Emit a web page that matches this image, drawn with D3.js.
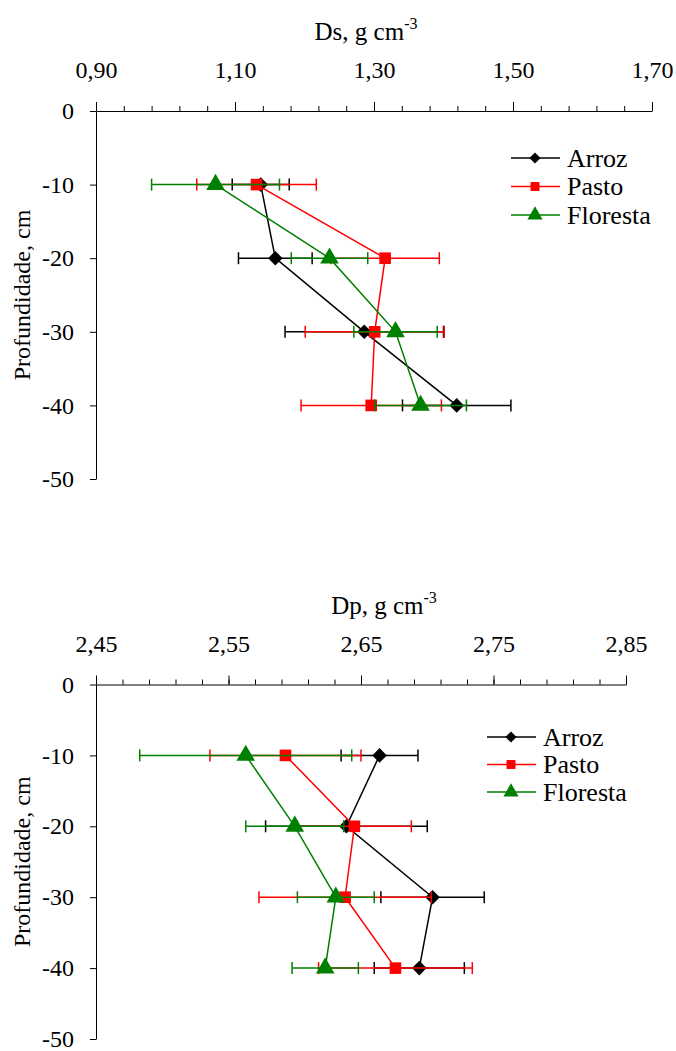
<!DOCTYPE html>
<html>
<head>
<meta charset="utf-8">
<script src="https://cdn.jsdelivr.net/npm/d3@7"></script>
<style>
 body { margin: 0; background: #fff; }
 svg text { font-family: "Liberation Serif", "Tinos", "Noto Serif", "DejaVu Serif", "FreeSerif", "Nimbus Roman", "Times New Roman", serif; fill: #000; }
 .axis path, .axis line { stroke: #000; }
 .axis text { font-size: 24px; }
</style>
</head>
<body>
<svg id="chart" width="676" height="1051"></svg>
<script>
 // depth of each sampled layer (cm)
 const depths = [-10, -20, -30, -40];
 const depthTicks = [0, -10, -20, -30, -40, -50];
 const seriesNames = ['Arroz', 'Pasto', 'Floresta'];

 // Ds, g cm-3 (mean and error)
 const dsArroz = [1.137, 1.158, 1.286, 1.419];
 const dsArrozErr = [0.041, 0.053, 0.114, 0.078];
 const dsPasto = [1.131, 1.316, 1.301, 1.296];
 const dsPastoErr = [0.086, 0.078, 0.100, 0.101];
 const dsFloresta = [1.072, 1.236, 1.331, 1.367];
 const dsFlorestaErr = [0.092, 0.055, 0.060, 0.066];
 const dsTicks = [0.90, 1.10, 1.30, 1.50, 1.70];

 // Dp, g cm-3 (mean and error)
 const dpArroz = [2.664, 2.639, 2.704, 2.694];
 const dpArrozErr = [0.029, 0.061, 0.039, 0.034];
 const dpPasto = [2.593, 2.645, 2.638, 2.676];
 const dpPastoErr = [0.057, 0.043, 0.065, 0.058];
 const dpFloresta = [2.563, 2.600, 2.631, 2.623];
 const dpFlorestaErr = [0.080, 0.037, 0.029, 0.025];
 const dpTicks = [2.45, 2.55, 2.65, 2.75, 2.85];

 const colors = ['#000000', '#ff0000', '#008000'];
 const symbols = [d3.symbolDiamond2, d3.symbolSquare, d3.symbolTriangle];
 const fmt = v => d3.format('.2f')(v).replace('.', ',');

 const svg = d3.select('#chart');

 function panel(opt) {
   const x = d3.scaleLinear().domain(opt.domain).range([opt.left, opt.right]);
   const y = d3.scaleLinear().domain([0, -50]).range([opt.top, opt.bottom]);
   const g = svg.append('g');

   // minor ticks on the top axis
   const minor = d3.range(opt.domain[0], opt.domain[1] + opt.minorStep / 2, opt.minorStep);
   g.append('g').attr('class', 'axis')
     .attr('transform', `translate(0,${opt.top})`)
     .call(d3.axisTop(x).tickValues(minor).tickSize(5).tickFormat(''))
     .call(s => s.select('.domain').remove());
   g.append('g').attr('class', 'axis')
     .attr('transform', `translate(0,${opt.top})`)
     .call(d3.axisTop(x).tickValues(opt.ticks).tickSize(9).tickSizeOuter(0)
       .tickPadding(24).tickFormat(fmt));

   g.append('g').attr('class', 'axis')
     .attr('transform', `translate(${opt.left},0)`)
     .call(d3.axisLeft(y).tickValues(depthTicks).tickSize(6).tickSizeOuter(0)
       .tickPadding(16).tickFormat(d => d === 0 ? '0' : '-' + Math.abs(d)));

   // axis titles
   const t = g.append('text')
     .attr('x', opt.titleX).attr('y', opt.top - 71)
     .attr('text-anchor', 'middle')
     .style('font-size', '25px');
   t.append('tspan').text(opt.title + ', g cm');
   t.append('tspan').attr('dy', -11).style('font-size', '16px').text('-3');

   g.append('text')
     .attr('transform', `translate(30,${(opt.top + opt.bottom) / 2}) rotate(-90)`)
     .attr('text-anchor', 'middle')
     .style('font-size', '24px')
     .text('Profundidade, cm');

   // series: error bars, line, markers
   opt.series.forEach((s, i) => {
     const c = colors[i];
     const sg = g.append('g');
     const rows = depths.map((d, j) => ({ d: d, v: s.values[j], e: s.err[j] }));
     sg.selectAll('.bar').data(rows).join('line')
       .attr('x1', r => x(r.v - r.e)).attr('x2', r => x(r.v + r.e))
       .attr('y1', r => y(r.d)).attr('y2', r => y(r.d))
       .attr('stroke', c).attr('stroke-width', 1.5);
     sg.selectAll('.capL').data(rows).join('line')
       .attr('x1', r => x(r.v - r.e)).attr('x2', r => x(r.v - r.e))
       .attr('y1', r => y(r.d) - 6).attr('y2', r => y(r.d) + 6)
       .attr('stroke', c).attr('stroke-width', 1.5);
     sg.selectAll('.capR').data(rows).join('line')
       .attr('x1', r => x(r.v + r.e)).attr('x2', r => x(r.v + r.e))
       .attr('y1', r => y(r.d) - 6).attr('y2', r => y(r.d) + 6)
       .attr('stroke', c).attr('stroke-width', 1.5);
     sg.append('path').datum(rows)
       .attr('fill', 'none').attr('stroke', c).attr('stroke-width', 1.5)
       .attr('d', d3.line().x(r => x(r.v)).y(r => y(r.d)));
     sg.selectAll('.pt').data(rows).join('path')
       .attr('transform', r => `translate(${x(r.v)},${y(r.d)})`)
       .attr('d', d3.symbol(symbols[i], i === 2 ? 150 : 135))
       .attr('fill', c);
   });

   // legend
   const lg = g.append('g');
   seriesNames.forEach((n, i) => {
     const ly = opt.legY + i * opt.legStep;
     lg.append('line')
       .attr('x1', opt.legX).attr('x2', opt.legX + 49)
       .attr('y1', ly).attr('y2', ly)
       .attr('stroke', colors[i]).attr('stroke-width', 1.5);
     lg.append('path')
       .attr('transform', `translate(${opt.legX + 24},${ly})`)
       .attr('d', d3.symbol(symbols[i], i === 2 ? 100 : 80))
       .attr('fill', colors[i]);
     lg.append('text')
       .attr('x', opt.legX + 56).attr('y', ly).attr('dy', '0.33em')
       .style('font-size', '26px')
       .text(n);
   });
 }

 // the axis generator sets its own font-family attribute; the CSS rule above wins over it
 panel({
   domain: [0.90, 1.70], ticks: dsTicks, minorStep: 0.04,
   left: 96, right: 652, top: 111, bottom: 479,
   title: 'Ds', titleX: 366,
   legX: 511, legY: 158, legStep: 28.5,
   series: [
     { values: dsArroz, err: dsArrozErr },
     { values: dsPasto, err: dsPastoErr },
     { values: dsFloresta, err: dsFlorestaErr }
   ]
 });

 panel({
   domain: [2.45, 2.85], ticks: dpTicks, minorStep: 0.02,
   left: 96, right: 626, top: 684.5, bottom: 1039,
   title: 'Dp', titleX: 384,
   legX: 487, legY: 737, legStep: 27.5,
   series: [
     { values: dpArroz, err: dpArrozErr },
     { values: dpPasto, err: dpPastoErr },
     { values: dpFloresta, err: dpFlorestaErr }
   ]
 });
</script>
</body>
</html>
